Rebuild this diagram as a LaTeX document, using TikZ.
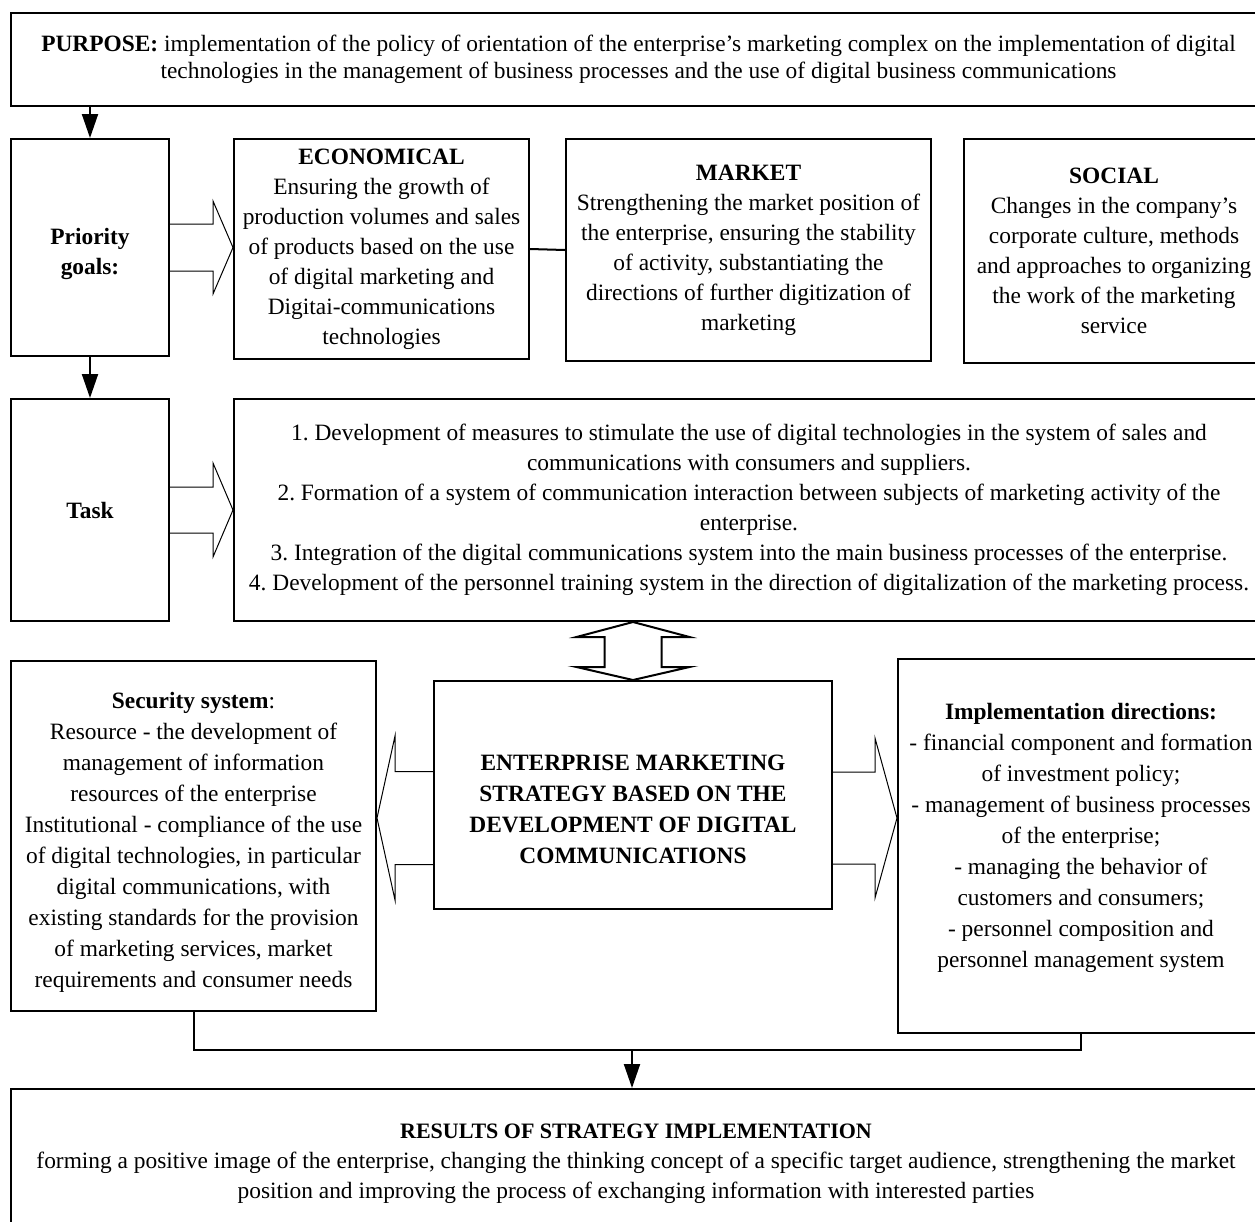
\documentclass[tikz,border=0pt]{standalone}
\usepackage{fontspec}
\setmainfont{Liberation Serif}
\usetikzlibrary{arrows.meta, calc}
\frenchspacing
\newcommand{\bodyFont}{\fontsize{11.7}{15}\selectfont}
\newcommand{\headFont}{\fontsize{11}{14}\selectfont}
\tikzstyle{box}=[draw, line width=1pt, inner sep=0pt, anchor=north west, align=center, font=\bodyFont]
\tikzstyle{boxText}=[align=center, inner sep=0pt, font=\bodyFont]
\tikzstyle{hollow}=[line width=0.5pt]
\tikzstyle{arrow}=[-{Triangle[length=12pt,width=8pt]}, line width=1pt]
\tikzstyle{link}=[line width=1pt]
\newcommand\blockArrow[5]{%
  \draw[hollow] let \p1=(#1), \p2=(#2) in
    (\x1,{\y1+#3}) -- ({\x2-(#5)},{\y1+#3}) -- ({\x2-(#5)},{\y1+#4}) -- (\x2,\y1)
    -- ({\x2-(#5)},{\y1-#4}) -- ({\x2-(#5)},{\y1-#3}) -- (\x1,{\y1-#3});
}

\begin{document}
\begin{tikzpicture}[x=0.5pt, y=-0.5pt]
  \useasboundingbox (0,0) rectangle (1255,1222);
  \clip (0,0) rectangle (1255,1222);

  \node[box, minimum width=627.5pt, minimum height=46.5pt, font=\fontsize{11.7}{13.5}\selectfont] (purpose) at (10,12)
    {\textbf{PURPOSE:} implementation of the policy of orientation of the enterprise's marketing complex on the implementation of digital\\
     technologies in the management of business processes and the use of digital business communications};

  \node[box, minimum width=79pt, minimum height=108.5pt,
    label={[boxText, yshift=-3pt, font=\bodyFont\bfseries]center:Priority\\goals:}] (prio) at (10,138) {};
  \node[box, minimum width=147.5pt, minimum height=110pt] (econ) at (233,138)
    {\textbf{ECONOMICAL}\\Ensuring the growth of\\production volumes and sales\\of products based on the use\\of digital marketing and\\Digitai-communications\\technologies};
  \node[box, minimum width=182.5pt, minimum height=111pt] (market) at (565,138)
    {\textbf{MARKET}\\Strengthening the market position of\\the enterprise, ensuring the stability\\of activity, substantiating the\\directions of further digitization of\\marketing};
  \node[box, minimum width=150pt, minimum height=112pt] (social) at (963,138)
    {\textbf{SOCIAL}\\Changes in the company's\\corporate culture, methods\\and approaches to organizing\\the work of the marketing\\service};

  \node[box, minimum width=79pt, minimum height=111pt] (tasklabel) at (10,398) {\textbf{Task}};
  \node[box, minimum width=515pt, minimum height=111pt] (tasks) at (233,398)
    {1. Development of measures to stimulate the use of digital technologies in the system of sales and\\
     communications with consumers and suppliers.\\
     2. Formation of a system of communication interaction between subjects of marketing activity of the\\
     enterprise.\\
     3. Integration of the digital communications system into the main business processes of the enterprise.\\
     4. Development of the personnel training system in the direction of digitalization of the marketing process.};

  \node[box, minimum width=182.5pt, minimum height=175pt,
    label={[boxText, yshift=-3pt, font=\fontsize{11.7}{15.5}\selectfont]center:\textbf{Security system}:\\Resource - the development of\\management of information\\resources of the enterprise\\Institutional - compliance of the use\\of digital technologies, in particular\\digital communications, with\\existing standards for the provision\\of marketing services, market\\requirements and consumer needs}] (security) at (10,660) {};
  \node[box, minimum width=199pt, minimum height=114pt,
    label={[boxText, yshift=-7pt, font=\fontsize{11.7}{15.5}\selectfont\bfseries]center:ENTERPRISE MARKETING\\STRATEGY BASED ON THE\\DEVELOPMENT OF DIGITAL\\COMMUNICATIONS}] (strat) at (433,680) {};
  \node[box, minimum width=183pt, minimum height=187pt,
    label={[boxText, yshift=4pt, font=\fontsize{11.7}{15.5}\selectfont]center:\textbf{Implementation directions:}\\- financial component and formation\\of investment policy;\\- management of business processes\\of the enterprise;\\- managing the behavior of\\customers and consumers;\\- personnel composition and\\personnel management system}] (impl) at (897,658) {};

  \node[box, minimum width=625pt, minimum height=75pt] (results) at (10,1088)
    {{\headFont\bfseries RESULTS OF STRATEGY IMPLEMENTATION}\\
     forming a positive image of the enterprise, changing the thinking concept of a specific target audience, strengthening the market\\
     position and improving the process of exchanging information with interested parties};

  \draw[arrow] (prio.north |- purpose.south) -- (prio.north);
  \draw[arrow] (prio.south) -- (tasklabel.north);
  \draw[link] (econ.east) -- (market.west);

  \blockArrow{prio.east}{econ.west |- prio.east}{11.75pt}{23.25pt}{10pt}
  \blockArrow{tasklabel.east}{tasks.west |- tasklabel.east}{11.5pt}{23.5pt}{10pt}

  \coordinate (sideL) at ($(strat.west)+(0,23)$);
  \coordinate (sideR) at ($(strat.east)+(0,23)$);
  \blockArrow{sideL}{security.east |- sideL}{23.25pt}{41pt}{-9pt}
  \blockArrow{sideR}{impl.west |- sideR}{23pt}{40pt}{11pt}

  \coordinate (dtop) at (strat.north |- tasks.south);
  \draw[hollow, line width=1pt] let \p1=(dtop), \p2=(strat.north) in
    (\x1,\y1) -- (\x1+28.25pt,\y1-7.5pt) -- (\x1+14.25pt,\y1-7.5pt) -- (\x1+14.25pt,\y2+6.5pt)
    -- (\x1+28.25pt,\y2+6.5pt) -- (\x2,\y2) -- (\x1-28.25pt,\y2+6.5pt) -- (\x1-14.25pt,\y2+6.5pt)
    -- (\x1-14.25pt,\y1-7.5pt) -- (\x1-28.25pt,\y1-7.5pt) -- cycle;

  \coordinate (merge) at (632,1050);
  \draw[link] (security.south) |- (merge) -| (impl.south);
  \draw[arrow] (merge) -- (merge |- results.north);
\end{tikzpicture}
\end{document}
